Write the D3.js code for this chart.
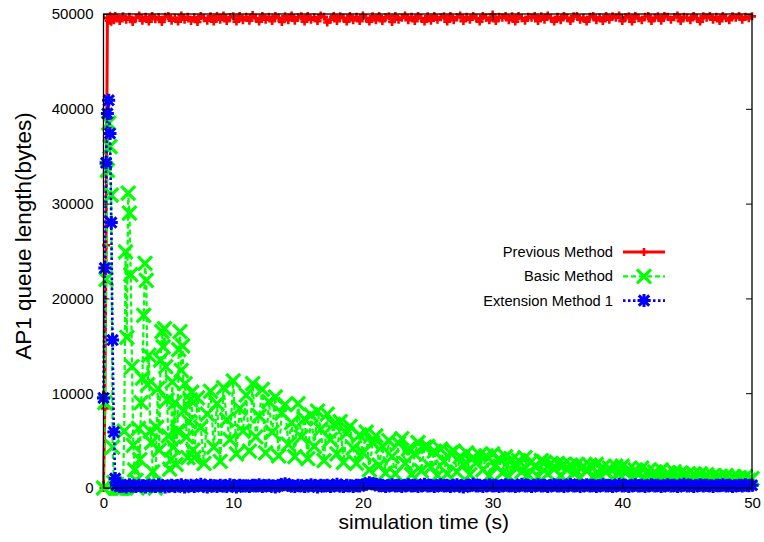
<!DOCTYPE html>
<html>
<head>
<meta charset="utf-8">
<script src="https://cdn.jsdelivr.net/npm/d3@7"></script>
<style>
  body { margin: 0; background: #fff; }
  svg { display: block; }
  text { font-family: "Liberation Sans", Arial, sans-serif; fill: #000; }
</style>
</head>
<body>
<svg id="chart" width="764" height="542"></svg>
<script>
// Axis ticks
const xTicks = [0, 10, 20, 30, 40, 50];
const yTicks = [0, 10000, 20000, 30000, 40000, 50000];

// Queue samples: an early segment every 0.1 s from t = 0, then a segment every 0.25 s.
const EARLY_STEP = 0.1;
const LATE_STEP = 0.25;

// Previous Method (late segment starts at t = 1.0 s)
const prevEarly = [0, 8400, 25600, 49600, 49300, 49750, 49200, 49600, 49350, 49800];
const prevLate = [
  49600, 49250, 49750, 49400, 49700, 49150, 49600, 49850,
  49300, 49700, 49200, 49800, 49450, 49650, 49150, 49700,
  49800, 49300, 49600, 49200, 49850, 49400, 49700, 49250,
  49650, 49150, 49800, 49550, 49300, 49750, 49200, 49800,
  49400, 49850, 49250, 49650, 49750, 49200, 49800, 49350,
  49700, 49300, 49900, 49550, 49200, 49800, 49400, 49700,
  49250, 49800, 49600, 49150, 49750, 49350, 49850, 49300,
  49650, 49750, 49200, 49800, 49400, 49650, 49250, 49850,
  49700, 49100, 49400, 49800, 49250, 49750, 49600, 49200,
  49800, 49350, 49700, 49250, 49850, 49550, 49200, 49750,
  49350, 49800, 49250, 49650, 49750, 49150, 49800, 49400,
  49600, 49850, 49350, 49700, 49250, 49800, 49550, 49200,
  49750, 49300, 49800, 49400, 49650, 49750, 49200, 49800,
  49350, 49650, 49850, 49250, 49700, 49400, 49800, 49550,
  49200, 49800, 49600, 49350, 49950, 49250, 49700, 49600,
  49800, 49350, 49750, 49200, 49800, 49550, 49300, 49700,
  49600, 49800, 49250, 49750, 49400, 49850, 49550, 49200,
  49700, 49350, 49800, 49600, 49250, 49750, 49800, 49400,
  49600, 49200, 49700, 49800, 49350, 49650, 49250, 49800,
  49400, 49750, 49600, 49850, 49250, 49650, 49750, 49200,
  49800, 49550, 49350, 49700, 49800, 49250, 49600, 49750,
  49300, 49800, 49700, 49400, 49650, 49850, 49250, 49700,
  49600, 49350, 49800, 49550, 49200, 49750, 49600, 49800,
  49400, 49700, 49250, 49800, 49550, 49350, 49750, 49600,
  49800, 49400, 49700, 49550, 49750
];

// Basic Method (late segment starts at t = 7.0 s)
const basicEarly = [
  0, 9000, 22000, 33500, 38500, 36000, 30900, 4300, 600, 0,
  0, 0, 0, 0, 0, 0, 6000, 24900, 15900, 31100,
  29000, 22500, 12800, 4500, 1900, 800, 0, 6300, 3000, 9000,
  11600, 18200, 23700, 21900, 10900, 14000, 6000, 4800, 1700, 400,
  0, 6400, 10500, 4000, 13500, 16500, 14900, 16800, 12800, 9300,
  5500, 2000, 3000, 11200, 4300, 9000, 2500, 6000, 14600, 16500,
  12400, 15000, 8200, 11000, 5400, 3200, 7000, 9300, 10100, 4000
];
const basicLate = [
  3200, 9500, 6400, 2600,
  7800, 10200, 4300, 8900,
  2800, 10600, 7200, 5100,
  11300, 3600, 8400, 6000,
  9800, 3900, 11000, 5400,
  7600, 10400, 3700, 9100,
  5900, 9600, 3400, 7900,
  8800, 4600, 6900, 3300,
  8900, 5400, 7300, 3100,
  7700, 4400, 8100, 6200,
  2900, 7800, 5100, 6700,
  3600, 7000, 2700, 5800,
  6500, 4200, 2600, 5600,
  3700, 5900, 1900, 4800,
  5500, 2400, 4400, 1600,
  5000, 3300, 1500, 4700,
  5200, 2600, 4100, 1400,
  3600, 4800, 1800, 4300,
  4400, 2200, 3900, 1300,
  4100, 2800, 1500, 3700,
  3900, 1700, 3300, 2500,
  3700, 1400, 3200, 2700,
  3500, 1900, 3400, 1300,
  3600, 2400, 3100, 1600,
  3300, 1200, 3000, 2200,
  2900, 1700, 3200, 1400,
  2800, 2300, 1200, 2900,
  2700, 1500, 2600, 2000,
  2600, 1300, 2500, 1900,
  2400, 1600, 2500, 1100,
  2300, 1800, 2400, 1200,
  2500, 1400, 2200, 1700,
  2100, 1000, 2300, 1500,
  2300, 1600, 2000, 1100,
  1900, 1400, 2100, 900,
  1800, 1300, 1700, 1000,
  1900, 1200, 1600, 900,
  1700, 1100, 1600, 1300,
  1400, 900, 1500, 1100,
  1500, 1000, 1400, 800,
  1300, 1100, 1200, 900,
  1300, 800, 1200, 1000,
  1100, 900, 1200, 800,
  1000
];

// Extension Method 1 (late segment starts at t = 1.0 s)
const extEarly = [9500, 23200, 34300, 39500, 40900, 37400, 28000, 15600, 5900, 1000];
const extLate = [
  300, 150, 250, 100, 350, 200, 150, 300,
  250, 100, 300, 200, 150, 350, 250, 100,
  200, 300, 150, 250, 350, 100, 200, 300,
  150, 250, 400, 200, 100, 300, 250, 150,
  300, 200, 150, 350, 250, 100, 300, 200,
  250, 150, 300, 200, 350, 150, 250, 300,
  200, 100, 250, 350, 450, 300, 200, 150,
  300, 250, 150, 200, 350, 250, 100, 300,
  200, 300, 150, 250, 400, 200, 150, 300,
  250, 150, 300, 200, 350, 400, 550, 450,
  400, 250, 300, 150, 250, 350, 200, 300,
  150, 250, 350, 200, 300, 150, 250, 400,
  200, 300, 150, 250, 350, 200, 300, 150,
  250, 350, 200, 100, 300, 250, 400, 200,
  300, 150, 250, 350, 200, 300, 150, 250,
  350, 200, 300, 150, 250, 400, 200, 300,
  150, 250, 350, 200, 300, 150, 250, 350,
  200, 300, 150, 250, 400, 200, 300, 150,
  250, 350, 200, 300, 150, 250, 350, 200,
  300, 150, 250, 400, 200, 300, 150, 250,
  350, 200, 300, 150, 250, 350, 200, 300,
  150, 250, 350, 200, 300, 150, 250, 400,
  200, 300, 150, 250, 350, 200, 300, 250,
  150, 300, 250, 350, 200, 300, 150, 250,
  300, 200, 350, 250, 300
];

const seriesNames = ["Previous Method", "Basic Method", "Extension Method 1"];
const seriesColors = ["#ff0000", "#00ff00", "#0000ff"];

// Turn the early/late value lists into [time, value] points
function toPoints(early, late, lateStart) {
  const pts = early.map((v, i) => [i * EARLY_STEP, v]);
  late.forEach((v, i) => pts.push([lateStart + i * LATE_STEP, v]));
  return pts;
}

const series = [
  { name: seriesNames[0], color: seriesColors[0], points: toPoints(prevEarly, prevLate, 1.0),
    width: 3, dash: null, marker: "plus", size: 4, markerWidth: 2.6 },
  { name: seriesNames[1], color: seriesColors[1], points: toPoints(basicEarly, basicLate, 7.0),
    width: 2.2, dash: "5,3", marker: "cross", size: 7, markerWidth: 3.2 },
  { name: seriesNames[2], color: seriesColors[2], points: toPoints(extEarly, extLate, 1.0),
    width: 2.6, dash: "2.5,2.5", marker: "star", size: 6.5, markerWidth: 3 }
];

const svg = d3.select("#chart");
const plotLeft = 103.5, plotRight = 752, plotTop = 14, plotBottom = 488;

const x = d3.scaleLinear().domain([0, 50]).range([plotLeft, plotRight]);
const y = d3.scaleLinear().domain([0, 50000]).range([plotBottom, plotTop]);

// Marker path builders
function markerPath(kind, s) {
  const plus = `M${-s},0H${s}M0,${-s}V${s}`;
  const c = s * 0.8;
  const cross = `M${-c},${-c}L${c},${c}M${-c},${c}L${c},${-c}`;
  if (kind === "plus") return plus;
  if (kind === "cross") return `M${-s},${-s}L${s},${s}M${-s},${s}L${s},${-s}`;
  return plus + cross;
}

const line = d3.line().x(d => x(d[0])).y(d => y(d[1]));
const plotG = svg.append("g");

series.forEach(s => {
  const g = plotG.append("g");
  g.append("path")
    .attr("d", line(s.points))
    .attr("fill", "none")
    .attr("stroke", s.color)
    .attr("stroke-width", s.width)
    .attr("stroke-dasharray", s.dash)
    .attr("stroke-linejoin", "miter");
  const mp = markerPath(s.marker, s.size);
  g.selectAll("path.mk").data(s.points).join("path")
    .attr("class", "mk")
    .attr("d", mp)
    .attr("transform", d => `translate(${x(d[0])},${y(d[1])})`)
    .attr("fill", "none")
    .attr("stroke", s.color)
    .attr("stroke-width", s.markerWidth);
});

// Axes with inward ticks on all four sides
const tickLen = 6;
const axL = svg.append("g").attr("transform", `translate(${plotLeft},0)`)
  .call(d3.axisLeft(y).tickValues(yTicks).tickSize(-tickLen).tickPadding(10).tickFormat(d3.format("d")));
const axB = svg.append("g").attr("transform", `translate(0,${plotBottom})`)
  .call(d3.axisBottom(x).tickValues(xTicks).tickSize(-tickLen).tickPadding(9).tickFormat(d3.format("d")));
const axR = svg.append("g").attr("transform", `translate(${plotRight},0)`)
  .call(d3.axisRight(y).tickValues(yTicks).tickSize(-tickLen).tickFormat(""));
const axT = svg.append("g").attr("transform", `translate(0,${plotTop})`)
  .call(d3.axisTop(x).tickValues(xTicks).tickSize(-tickLen).tickFormat(""));
[axL, axB, axR, axT].forEach(a => {
  a.select(".domain").remove();
  a.selectAll("line").attr("stroke", "#000").attr("stroke-width", 1);
  a.selectAll("text").style("font-size", "15px").attr("font-family", null).attr("fill", "#000");
});

svg.append("rect")
  .attr("x", plotLeft).attr("y", plotTop)
  .attr("width", plotRight - plotLeft).attr("height", plotBottom - plotTop)
  .attr("fill", "none").attr("stroke", "#000").attr("stroke-width", 1.3);

// Axis titles
svg.append("text")
  .attr("x", (plotLeft + plotRight) / 2 - 4).attr("y", 529)
  .attr("text-anchor", "middle")
  .style("font-size", "21px")
  .text("simulation time (s)");
svg.append("text")
  .attr("transform", "translate(31,236) rotate(-90)")
  .attr("text-anchor", "middle")
  .style("font-size", "22.5px")
  .text("AP1 queue length(bytes)");

// Legend
const legend = svg.append("g");
series.forEach((s, i) => {
  const ly = 252 + i * 24.3;
  legend.append("text")
    .attr("x", 613).attr("y", ly).attr("dy", "0.35em")
    .attr("text-anchor", "end")
    .style("font-size", "14.7px")
    .text(s.name);
  legend.append("line")
    .attr("x1", 623).attr("x2", 665).attr("y1", ly).attr("y2", ly)
    .attr("stroke", s.color).attr("stroke-width", s.width)
    .attr("stroke-dasharray", s.dash);
  legend.append("path")
    .attr("d", markerPath(s.marker, s.size))
    .attr("transform", `translate(644,${ly})`)
    .attr("fill", "none").attr("stroke", s.color).attr("stroke-width", s.markerWidth);
});
</script>
</body>
</html>
